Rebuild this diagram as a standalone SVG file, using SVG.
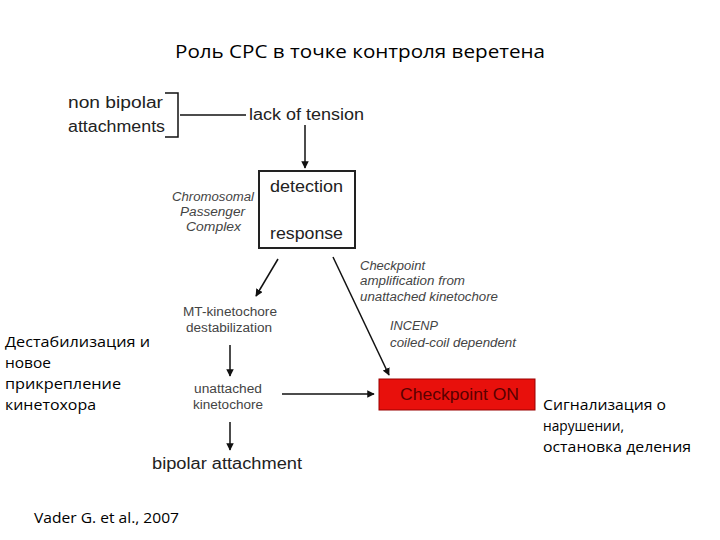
<svg xmlns="http://www.w3.org/2000/svg" width="720" height="540" viewBox="0 0 720 540">
<defs>
<marker id="ah" viewBox="0 0 10 10" refX="9" refY="5" markerWidth="5" markerHeight="5" orient="auto"><path d="M0,0 L10,5 L0,10 z" fill="#111"/></marker>
<style>
.f{font-family:"Liberation Sans",Arial,sans-serif;fill:#222}
.b{font-size:16px}
.s{font-size:12px;fill:#444}
.i{font-style:italic}
.c{font-family:"Open Sans","Liberation Sans",sans-serif;font-size:15px;fill:#000}
.l{stroke:#111;stroke-width:1.5;fill:none}
</style>
</defs>
<rect width="720" height="540" fill="#fff"/>
<text class="c" x="175" y="58" textLength="370" lengthAdjust="spacingAndGlyphs" style="font-size:18px">Роль CPC в точке контроля веретена</text>
<g id="n-nonbipolar"><text class="f b" x="68" y="108" textLength="95" lengthAdjust="spacingAndGlyphs">non bipolar</text><text class="f b" x="68" y="132" textLength="97" lengthAdjust="spacingAndGlyphs">attachments</text>
<path class="l" d="M165,93 H178 V137 H165"/></g>
<g id="n-lack"><text class="f b" x="249" y="120" textLength="115" lengthAdjust="spacingAndGlyphs">lack of tension</text></g>
<g id="n-box"><rect x="259" y="171" width="96" height="77" fill="#fff" stroke="#222" stroke-width="2"/>
<text class="f b" x="270" y="192" textLength="73" lengthAdjust="spacingAndGlyphs">detection</text><text class="f b" x="270" y="239" textLength="73" lengthAdjust="spacingAndGlyphs">response</text></g>
<g id="n-cpc"><text class="f s i" x="172" y="201" textLength="82" lengthAdjust="spacingAndGlyphs">Chromosomal</text><text class="f s i" x="180" y="216" textLength="65" lengthAdjust="spacingAndGlyphs">Passenger</text><text class="f s i" x="186" y="231" textLength="55" lengthAdjust="spacingAndGlyphs">Complex</text></g>
<g id="n-amp"><text class="f s i" x="360" y="270" textLength="65" lengthAdjust="spacingAndGlyphs">Checkpoint</text><text class="f s i" x="360" y="285" textLength="105" lengthAdjust="spacingAndGlyphs">amplification from</text><text class="f s i" x="360" y="301" textLength="138" lengthAdjust="spacingAndGlyphs">unattached kinetochore</text>
<text class="f s i" x="390" y="330" textLength="48" lengthAdjust="spacingAndGlyphs">INCENP</text><text class="f s i" x="390" y="347" textLength="126" lengthAdjust="spacingAndGlyphs">coiled-coil dependent</text></g>
<g id="n-mt"><text class="f s" x="183" y="316" textLength="94" lengthAdjust="spacingAndGlyphs">MT-kinetochore</text><text class="f s" x="186" y="332" textLength="86" lengthAdjust="spacingAndGlyphs">destabilization</text></g>
<g id="n-unatt"><text class="f s" x="194" y="393" textLength="68" lengthAdjust="spacingAndGlyphs">unattached</text><text class="f s" x="193" y="409" textLength="70" lengthAdjust="spacingAndGlyphs">kinetochore</text></g>
<g id="n-bipolar"><text class="f b" x="152" y="469" textLength="150" lengthAdjust="spacingAndGlyphs">bipolar attachment</text></g>
<g id="n-on"><rect x="379" y="379" width="156" height="31" fill="#e8100c" stroke="#900" stroke-width="1"/>
<text class="f b" x="400" y="400" textLength="119" lengthAdjust="spacingAndGlyphs" style="fill:#5a0000">Checkpoint ON</text></g>
<g id="n-ru1"><text class="c" x="5" y="347" textLength="145" lengthAdjust="spacingAndGlyphs">Дестабилизация и</text><text class="c" x="5" y="368" textLength="46" lengthAdjust="spacingAndGlyphs">новое</text><text class="c" x="5" y="389" textLength="116" lengthAdjust="spacingAndGlyphs">прикрепление</text><text class="c" x="5" y="410" textLength="91" lengthAdjust="spacingAndGlyphs">кинетохора</text></g>
<g id="n-ru2"><text class="c" x="543" y="410" textLength="123" lengthAdjust="spacingAndGlyphs">Сигнализация о</text><text class="c" x="543" y="431" textLength="81" lengthAdjust="spacingAndGlyphs">нарушении,</text><text class="c" x="543" y="452" textLength="148" lengthAdjust="spacingAndGlyphs">остановка деления</text></g>
<g id="n-ref"><text class="c" x="34" y="523" textLength="145" lengthAdjust="spacingAndGlyphs">Vader G. et al., 2007</text></g>
<g id="connectors">
<line class="l" x1="180" y1="115" x2="246" y2="115"/>
<line class="l" x1="305" y1="125" x2="305" y2="168" marker-end="url(#ah)"/>
<line class="l" x1="278" y1="259" x2="256" y2="296" marker-end="url(#ah)"/>
<line class="l" x1="333" y1="257" x2="389" y2="375" marker-end="url(#ah)"/>
<line class="l" x1="230" y1="345" x2="230" y2="376" marker-end="url(#ah)"/>
<line class="l" x1="282" y1="394" x2="374" y2="394" marker-end="url(#ah)"/>
<line class="l" x1="230" y1="422" x2="230" y2="450" marker-end="url(#ah)"/>
</g>
</svg>
